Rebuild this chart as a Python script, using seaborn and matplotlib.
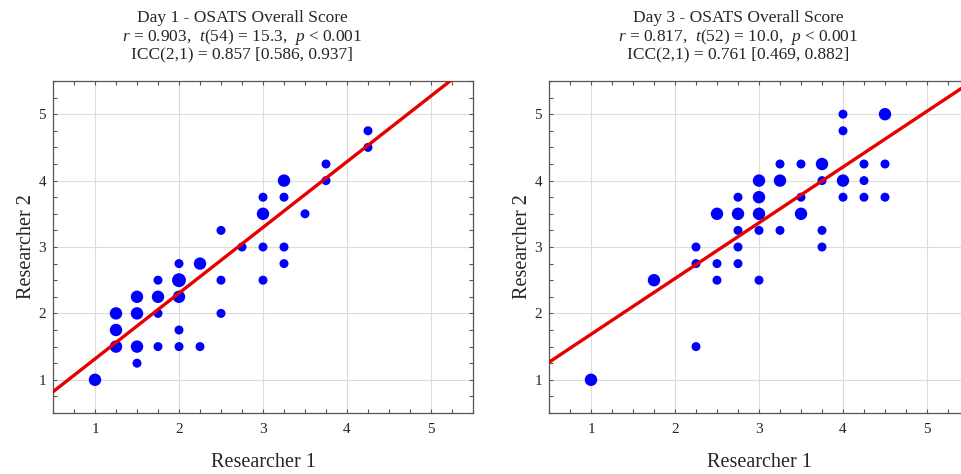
import matplotlib
matplotlib.use('Agg')
import matplotlib.pyplot as plt
import seaborn as sns
import pandas as pd
from matplotlib.ticker import MultipleLocator

# Day 1 points (Researcher 1, Researcher 2) and number of overlapping ratings
day1_x = [1, 1.25, 1.25, 1.25, 1.5, 1.5, 1.5, 1.5, 1.75, 1.75, 1.75, 1.75,
          2, 2, 2, 2, 2, 2.25, 2.25, 2.5, 2.5, 2.5, 2.75, 3, 3, 3, 3,
          3.25, 3.25, 3.25, 3.25, 3.5, 3.75, 3.75, 4.25, 4.25]
day1_y = [1, 2, 1.75, 1.5, 2.25, 2, 1.5, 1.25, 2.5, 2.25, 2, 1.5,
          2.75, 2.5, 2.25, 1.75, 1.5, 2.75, 1.5, 3.25, 2.5, 2, 3, 3.75, 3.5, 3, 2.5,
          4, 3.75, 3, 2.75, 3.5, 4.25, 4, 4.75, 4.5]
day1_n = [2, 2, 2, 2, 2, 2, 2, 1, 1, 2, 1, 1,
          1, 3, 2, 1, 1, 2, 1, 1, 1, 1, 1, 1, 2, 1, 1,
          2, 1, 1, 1, 1, 1, 1, 1, 1]

# Day 3 points
day3_x = [1, 1.75, 2.25, 2.25, 2.25, 2.5, 2.5, 2.5, 2.75, 2.75, 2.75, 2.75, 2.75,
          3, 3, 3, 3, 3, 3.25, 3.25, 3.25, 3.5, 3.5, 3.5, 3.75, 3.75, 3.75, 3.75,
          4, 4, 4, 4, 4.25, 4.25, 4.25, 4.5, 4.5, 4.5]
day3_y = [1, 2.5, 3, 2.75, 1.5, 3.5, 2.75, 2.5, 3.75, 3.5, 3.25, 3, 2.75,
          4, 3.75, 3.5, 3.25, 2.5, 4.25, 4, 3.25, 4.25, 3.75, 3.5, 4.25, 4, 3.25, 3,
          5, 4.75, 4, 3.75, 4.25, 4, 3.75, 5, 4.25, 3.75]
day3_n = [2, 2, 1, 1, 1, 2, 1, 1, 1, 2, 1, 1, 1,
          2, 2, 2, 1, 1, 1, 2, 1, 1, 1, 2, 2, 1, 1, 1,
          1, 1, 2, 1, 1, 1, 1, 2, 1, 1]

# fitted regression lines (intercept, slope)
day1_fit = (0.325, 0.99)
day3_fit = (0.845, 0.84)

titles = [
    'Day 1 - OSATS Overall Score\n'
    r'$r$ = 0.903,  $t$(54) = 15.3,  $p$ < 0.001' '\n'
    'ICC(2,1) = 0.857 [0.586, 0.937]',
    'Day 3 - OSATS Overall Score\n'
    r'$r$ = 0.817,  $t$(52) = 10.0,  $p$ < 0.001' '\n'
    'ICC(2,1) = 0.761 [0.469, 0.882]',
]

sns.set_style('ticks')
plt.rcParams['font.family'] = ['Liberation Serif', 'DejaVu Serif']
plt.rcParams['mathtext.fontset'] = 'custom'
plt.rcParams['mathtext.rm'] = 'Liberation Serif'
plt.rcParams['mathtext.it'] = 'Liberation Serif:italic'

fig = plt.figure(figsize=(9.61, 4.74), dpi=100)
W, H = 961, 474
ax1 = fig.add_axes([53 / W, 61 / H, 420 / W, 332 / H])
ax2 = fig.add_axes([549 / W, 61 / H, 420 / W, 332 / H])

datasets = [(day1_x, day1_y, day1_n, day1_fit), (day3_x, day3_y, day3_n, day3_fit)]

for ax, (xs, ys, ns, fit), title in zip([ax1, ax2], datasets, titles):
    df = pd.DataFrame({'r1': xs, 'r2': ys, 'n': ns})
    ax.grid(True, which='major', color='#dcdcdc', linewidth=0.8)
    ax.set_axisbelow(True)
    sns.scatterplot(data=df, x='r1', y='r2', size='n', sizes={1: 42, 2: 80, 3: 100},
                    color='#0000ff', linewidth=0, legend=False, ax=ax, zorder=3)
    ax.axline((0, fit[0]), slope=fit[1], color='#e60000', linewidth=2.4, zorder=4)
    ax.set_xlim(0.5, 5.5)
    ax.set_ylim(0.5, 5.5)
    ax.xaxis.set_major_locator(MultipleLocator(1))
    ax.yaxis.set_major_locator(MultipleLocator(1))
    ax.xaxis.set_minor_locator(MultipleLocator(0.25))
    ax.yaxis.set_minor_locator(MultipleLocator(0.25))
    ax.tick_params(which='both', direction='in', top=True, right=True,
                   length=3, width=0.8, color='#555555', labelsize=11)
    ax.tick_params(axis='x', pad=7)
    ax.tick_params(axis='y', pad=5)
    for s in ax.spines.values():
        s.set_color('#555555')
        s.set_linewidth(0.9)
    ax.set_xlabel('Researcher 1', fontsize=14.5)
    ax.set_ylabel('Researcher 2', fontsize=14.5)
    ax.xaxis.set_label_coords(0.5, -0.12)
    ax.yaxis.set_label_coords(-0.04, 0.5)
    ax.set_title(title, fontsize=12.5, x=0.45, pad=16, linespacing=1.02)

fig.savefig('out.png', dpi=100)
plt.close()
